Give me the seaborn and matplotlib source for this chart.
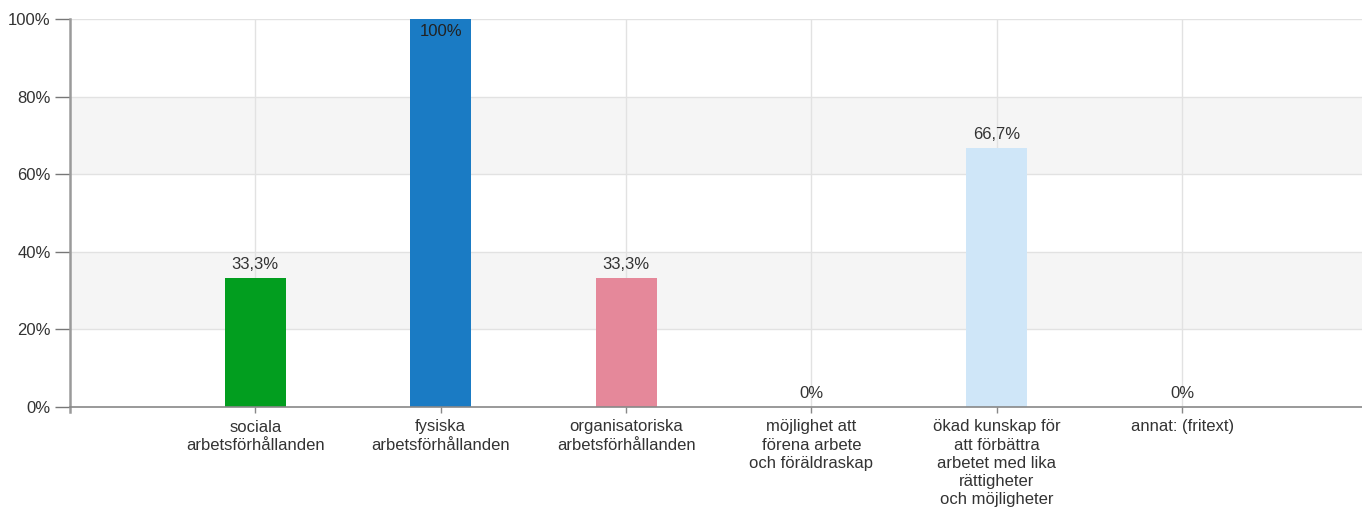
import matplotlib
matplotlib.use('Agg')
import matplotlib.pyplot as plt
import seaborn as sns
import pandas as pd

categories = [
    "sociala\narbetsförhållanden",
    "fysiska\narbetsförhållanden",
    "organisatoriska\narbetsförhållanden",
    "möjlighet att\nförena arbete\noch föräldraskap",
    "ökad kunskap för\natt förbättra\narbetet med lika\nrättigheter\noch möjligheter",
    "annat: (fritext)",
]
values = [33.3, 100, 33.3, 0, 66.7, 0]
labels = ["33,3%", "100%", "33,3%", "0%", "66,7%", "0%"]
colors = ["#029e1f", "#1a7bc4", "#e5889a", "#cfe6f8", "#cfe6f8", "#cfe6f8"]
yticks = [0, 20, 40, 60, 80, 100]

sns.set_style("white")
plt.rcParams['font.family'] = ['Liberation Sans', 'DejaVu Sans']

df = pd.DataFrame({"cat": categories, "val": values})

fig = plt.figure(figsize=(13.62, 5.12), dpi=100)
ax = fig.add_axes([70 / 1362, 1 - 407 / 512, 1292 / 1362, 388 / 512])

# alternating bands
for lo in [20, 60]:
    ax.axhspan(lo, lo + 20, color="#f5f5f5", zorder=0, lw=0)
for y in yticks[1:]:
    ax.axhline(y, color="#e2e2e2", lw=1, zorder=0.5)

sns.barplot(data=df, x="cat", y="val", hue="cat", palette=colors, legend=False,
            width=0.33, saturation=1, linewidth=0, ax=ax, zorder=2)

for i in range(len(categories)):
    ax.axvline(i, color="#e2e2e2", lw=1, zorder=1)

for i, (v, t) in enumerate(zip(values, labels)):
    if v >= 95:
        ax.text(i, v - 1.2, t, ha="center", va="top", fontsize=12, color="#222222", zorder=3)
    else:
        ax.text(i, v + 1.6, t, ha="center", va="bottom", fontsize=12, color="#333333", zorder=3)

ax.set_xlim(-1, 5.97)
ax.set_ylim(0, 100)
ax.set_yticks(yticks)
ax.set_yticklabels([f"{y}%" for y in yticks], fontsize=12, color="#333333")
ax.set_xticks(range(len(categories)))
ax.set_xticklabels(categories, fontsize=12, color="#333333", linespacing=1.27)
ax.set_xlabel("")
ax.set_ylabel("")

for s in ["top", "right"]:
    ax.spines[s].set_visible(False)
ax.spines["left"].set_color("#9a9a9a")
ax.spines["left"].set_linewidth(1.8)
ax.spines["left"].set_bounds(-1.3, 100)
ax.spines["bottom"].set_color("#888888")
ax.spines["bottom"].set_linewidth(1.2)
ax.spines["bottom"].set_zorder(4)
ax.tick_params(axis="y", length=11, width=1, color="#777777", pad=3, left=True)
ax.tick_params(axis="x", length=4, width=1, color="#888888", pad=5, bottom=True)

fig.savefig("out.png", dpi=100)
